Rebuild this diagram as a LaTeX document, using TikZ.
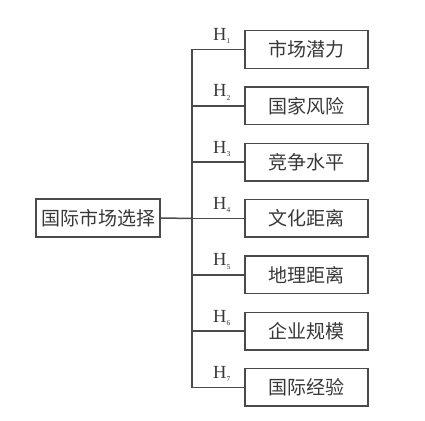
\documentclass[tikz,border=0pt]{standalone}
\usepackage{fontspec}
\setmainfont{Liberation Serif}
\newfontfamily\cjk{Noto Sans CJK SC}
\definecolor{ln}{HTML}{4A4A4A}
\definecolor{tx}{HTML}{383838}
\begin{document}
\begin{tikzpicture}[x=1pt,y=-1pt,
  box/.style={draw=ln,line width=1.5pt,minimum width=123pt,minimum height=37.5pt,inner sep=0pt,text=tx,font=\cjk\fontsize{19}{21}\selectfont},
  lbl/.style={text=tx,font=\fontsize{18.5}{20}\selectfont,inner sep=0pt},
  conn/.style={draw=ln,line width=1.5pt}]
\useasboundingbox (0,0) rectangle (425,420);
\node[box,minimum width=124pt,minimum height=38pt] (root) at (98,218) {国际市场选择};
\coordinate (top) at (192,49.5);
\coordinate (bot) at (192,387.5);
\foreach \i/\t [count=\k] in {1/市场潜力,2/国家风险,3/竞争水平,4/文化距离,5/地理距离,6/企业规模,7/国际经验}{
  \pgfmathsetmacro\yy{49.5+56.33*(\i-1)}
  \node[box] (b\i) at (306.5,\yy) {\t};
  \coordinate (j\i) at (192,\yy);
  \draw[conn] (j\i) -- (b\i.west);
  \node[lbl,anchor=base west] (h\i) at (213,\yy-9) {H\raisebox{-0.4ex}{\fontsize{7.5}{8}\selectfont\i}};
}
\draw[conn] (top) -- (bot);
\draw[conn] (root.east) -- (j4);
\end{tikzpicture}
\end{document}
